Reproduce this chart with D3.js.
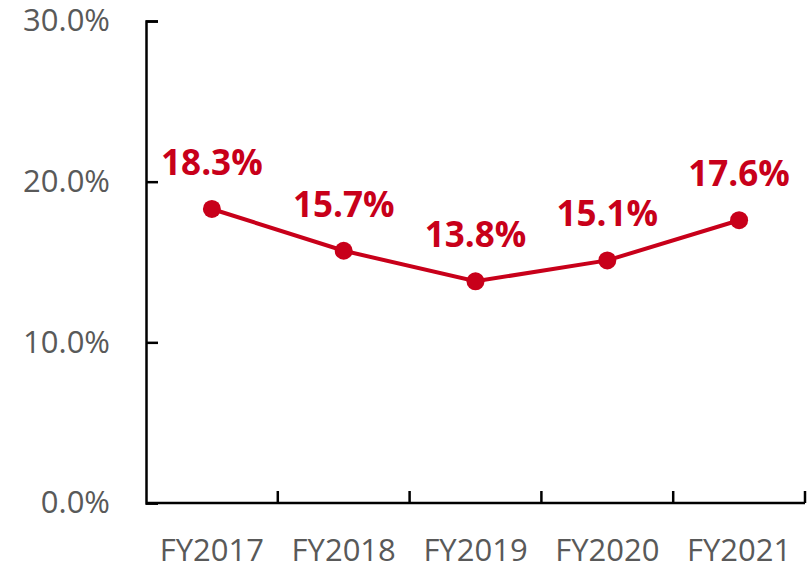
<!DOCTYPE html>
<html>
<head>
<meta charset="utf-8">
<script src="https://d3js.org/d3.v7.min.js"></script>
<style>
  body { margin: 0; background: #fff; }
  text { font-family: "Open Sans", sans-serif; }
</style>
</head>
<body>
<div id="chart"></div>
<script>
// data
var years = ["FY2017", "FY2018", "FY2019", "FY2020", "FY2021"];
var rates = [18.3, 15.7, 13.8, 15.1, 17.6];
var yTicks = [0, 10, 20, 30];

var width = 812, height = 565;
var margin = {top: 21, right: 7, bottom: 62, left: 146};

var red = "#c8001a";

var svg = d3.select("#chart").append("svg")
    .attr("width", width)
    .attr("height", height);

var x = d3.scaleBand()
    .domain(years)
    .range([margin.left, width - margin.right]);

var y = d3.scaleLinear()
    .domain([0, 30])
    .range([height - margin.bottom, margin.top]);

// y axis (ticks point inward)
var yAxis = svg.append("g")
    .attr("transform", "translate(" + margin.left + ",0)")
    .call(d3.axisLeft(y).tickValues(yTicks).tickSize(-12).tickPadding(36)
        .tickFormat(function(d) { return d.toFixed(1) + "%"; }));
yAxis.select(".domain").attr("stroke", "#000").attr("stroke-width", 2.5);
yAxis.selectAll(".tick line").attr("stroke", "#000").attr("stroke-width", 2.5);
yAxis.selectAll(".tick text")
    .attr("fill", "#595959")
    .style("font-size", "31px");

// x axis: ticks at category boundaries
var xAxis = svg.append("g")
    .attr("transform", "translate(0," + y(0) + ")");
xAxis.append("line")
    .attr("x1", margin.left).attr("x2", width - margin.right)
    .attr("stroke", "#000").attr("stroke-width", 2.5);
var bounds = years.map(function(d) { return x(d) + x.bandwidth(); });
xAxis.selectAll(".bt").data(bounds).enter().append("line")
    .attr("x1", function(d) { return d; })
    .attr("x2", function(d) { return d; })
    .attr("y1", 0).attr("y2", -12)
    .attr("stroke", "#000").attr("stroke-width", 2.5);
xAxis.selectAll(".xl").data(years).enter().append("text")
    .attr("x", function(d) { return x(d) + x.bandwidth() / 2; })
    .attr("y", 58)
    .attr("text-anchor", "middle")
    .attr("fill", "#595959")
    .style("font-size", "31px")
    .text(function(d) { return d; });

var pts = years.map(function(d, i) { return {year: d, v: rates[i]}; });

var line = d3.line()
    .x(function(d) { return x(d.year) + x.bandwidth() / 2; })
    .y(function(d) { return y(d.v); });

svg.append("path")
    .datum(pts)
    .attr("d", line)
    .attr("fill", "none")
    .attr("stroke", red)
    .attr("stroke-width", 4);

svg.selectAll(".dot").data(pts).enter().append("circle")
    .attr("cx", function(d) { return x(d.year) + x.bandwidth() / 2; })
    .attr("cy", function(d) { return y(d.v); })
    .attr("r", 9)
    .attr("fill", red);

svg.selectAll(".lbl").data(pts).enter().append("text")
    .attr("x", function(d) { return x(d.year) + x.bandwidth() / 2; })
    .attr("y", function(d) { return y(d.v) - 34; })
    .attr("text-anchor", "middle")
    .attr("fill", red)
    .style("font-size", "35px")
    .style("font-weight", "bold")
    .text(function(d) { return d.v.toFixed(1) + "%"; });
</script>
</body>
</html>
